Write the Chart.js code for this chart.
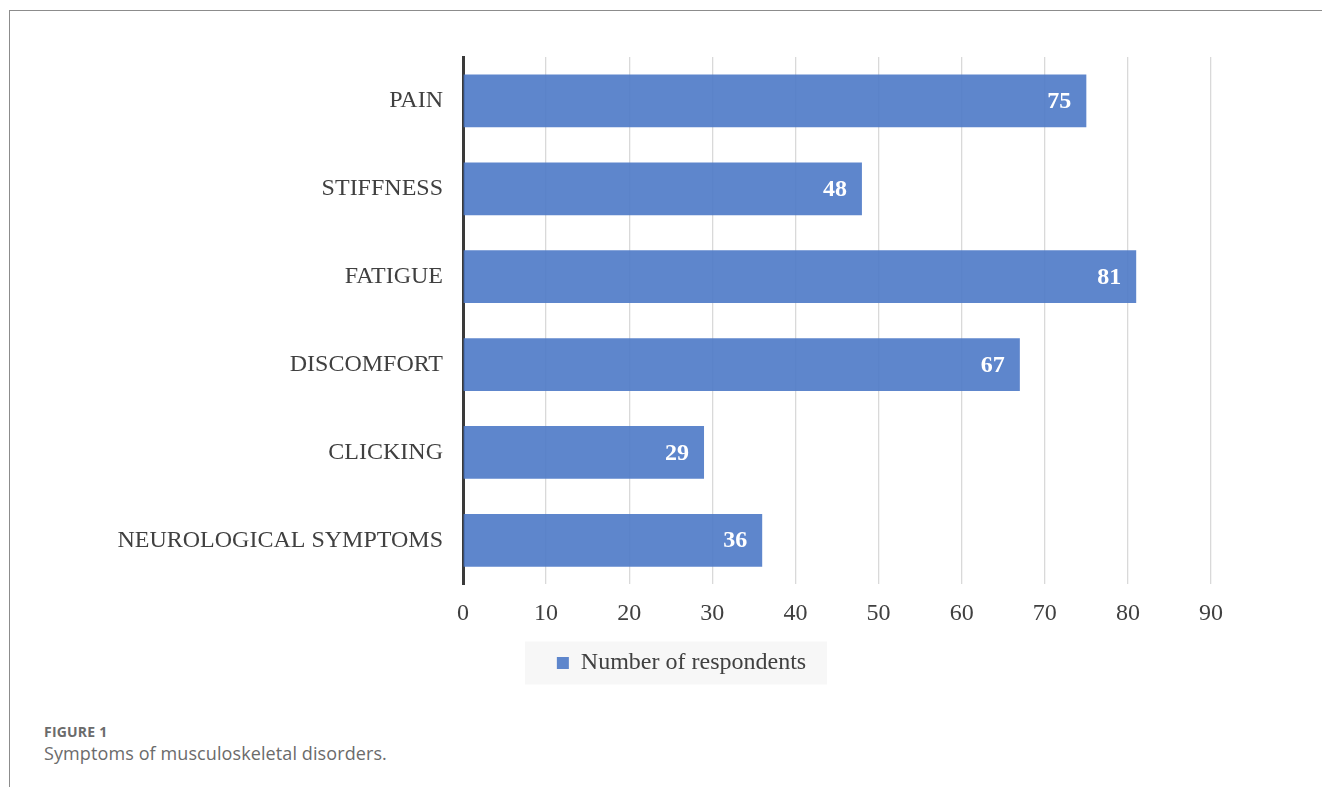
<!DOCTYPE html>
<html>
<head>
<meta charset="utf-8">
<script src="https://cdn.jsdelivr.net/npm/chart.js@4.4.0/dist/chart.umd.min.js"></script>
<style>
  html, body { margin: 0; padding: 0; background: #ffffff; }
  body { width: 1322px; height: 787px; position: relative; overflow: hidden; }
  #wrap { position: absolute; left: 0; top: 0; width: 1322px; height: 720px; z-index: 1; }
  #frameTop { position: absolute; left: 9px; top: 10px; width: 1313px; height: 1px; background: #8c8c8c; z-index: 2; }
  #frameLeft { position: absolute; left: 9px; top: 10px; width: 1px; height: 777px; background: #8c8c8c; z-index: 2; }
  #fig { position: absolute; left: 44px; top: 722px; font-family: "Open Sans", sans-serif; font-weight: 700; font-size: 14px; letter-spacing: 0.2px; color: #6b6b6b; z-index: 2; }
  #cap { position: absolute; left: 44px; top: 741px; font-family: "Open Sans", sans-serif; font-size: 18px; letter-spacing: 0.1px; color: #6b6b6b; z-index: 2; }
</style>
</head>
<body>
<div id="wrap"><canvas id="c" width="1322" height="720"></canvas></div>
<div id="frameTop"></div>
<div id="frameLeft"></div>
<div id="fig">FIGURE 1</div>
<div id="cap">Symptoms of musculoskeletal disorders.</div>
<script>
const categories = ["PAIN", "STIFFNESS", "FATIGUE", "DISCOMFORT", "CLICKING", "NEUROLOGICAL SYMPTOMS"];
const respondents = [75, 48, 81, 67, 29, 36];
const seriesName = "Number of respondents";
const xTicks = [0, 10, 20, 30, 40, 50, 60, 70, 80, 90];

const serif = '"Liberation Serif", "Times New Roman", serif';

const barLabels = {
  id: 'barLabels',
  afterDatasetsDraw(chart) {
    const ctx = chart.ctx;
    const meta = chart.getDatasetMeta(0);
    ctx.save();
    ctx.fillStyle = '#ffffff';
    ctx.font = 'bold 24px ' + serif;
    ctx.textAlign = 'right';
    ctx.textBaseline = 'middle';
    meta.data.forEach((bar, i) => {
      ctx.fillText(String(chart.data.datasets[0].data[i]), bar.x - 15, bar.y + 1);
    });
    ctx.restore();
  }
};

const legendPlace = {
  id: 'legendPlace',
  afterLayout(chart) {
    const lg = chart.legend;
    if (!lg) return;
    lg.left = 148; lg.right = 1215; lg.width = lg.right - lg.left;
    lg.top -= 16; lg.bottom -= 16;
  },
  beforeDraw(chart) {
    const lg = chart.legend;
    const ctx = chart.ctx;
    ctx.save();
    ctx.fillStyle = '#ffffff';
    ctx.fillRect(0, 0, chart.width, chart.height);
    if (lg && lg.legendHitBoxes && lg.legendHitBoxes.length) {
      const hb = lg.legendHitBoxes[0];
      const cy = hb.top + hb.height / 2;
      ctx.fillStyle = '#f7f7f7';
      ctx.fillRect(525, cy - 21.5, 302, 43);
    }
    ctx.restore();
  }
};

new Chart(document.getElementById('c'), {
  type: 'bar',
  data: {
    labels: categories,
    datasets: [{
      label: seriesName,
      data: respondents,
      backgroundColor: 'rgba(77,121,198,0.9)',
      borderWidth: 0,
      barPercentage: 0.6,
      categoryPercentage: 1.0
    }]
  },
  options: {
    indexAxis: 'y',
    responsive: false,
    animation: false,
    layout: { padding: { top: 57, right: 111, left: 0, bottom: 19 } },
    scales: {
      x: {
        min: 0,
        max: 90,
        afterBuildTicks(scale) { scale.ticks = xTicks.map(v => ({ value: v })); },
        grid: {
          color: (c) => c.tick && c.tick.value === 0 ? 'rgba(0,0,0,0)' : '#d9d9d9',
          lineWidth: 1.3,
          drawTicks: false
        },
        border: { display: false },
        ticks: {
          padding: 15,
          color: '#404040',
          font: { family: serif, size: 24 }
        }
      },
      y: {
        afterFit(scale) { scale.width = 463; },
        grid: { display: false, drawTicks: false },
        border: { display: true, color: '#3a3a3a', width: 3 },
        ticks: {
          padding: 20,
          color: '#404040',
          font: { family: serif, size: 24 }
        }
      }
    },
    plugins: {
      legend: {
        position: 'bottom',
        labels: {
          usePointStyle: true,
          pointStyle: 'rect',
          boxWidth: 12,
          boxHeight: 12,
          padding: 24,
          color: '#404040',
          font: { family: serif, size: 24 }
        }
      },
      tooltip: { enabled: false }
    }
  },
  plugins: [legendPlace, barLabels]
});
</script>
</body>
</html>
